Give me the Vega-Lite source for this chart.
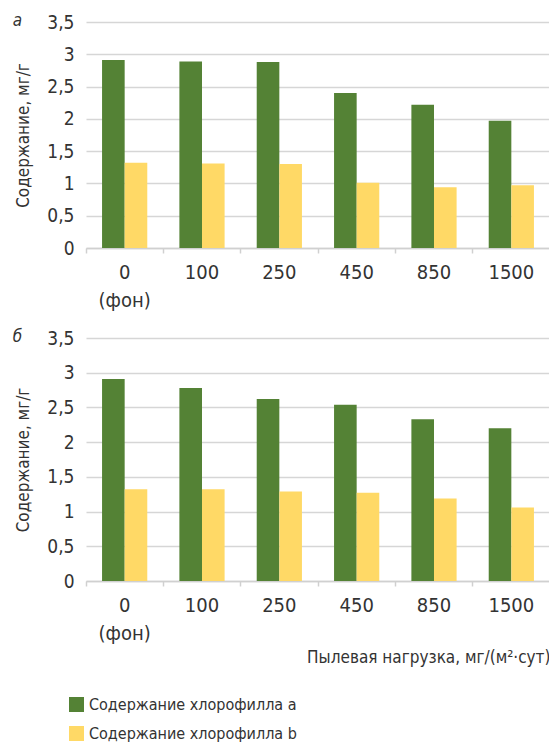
{
  "$schema": "https://vega.github.io/schema/vega-lite/v6.json",
  "padding": {"left": 12, "top": 12, "right": 0, "bottom": 5},
  "background": "white",
  "datasets": {
    "chl": [
      {"panel": "а", "load": "0", "pigment": "Содержание хлорофилла a", "value": 2.91},
      {"panel": "а", "load": "100", "pigment": "Содержание хлорофилла a", "value": 2.89},
      {"panel": "а", "load": "250", "pigment": "Содержание хлорофилла a", "value": 2.88},
      {"panel": "а", "load": "450", "pigment": "Содержание хлорофилла a", "value": 2.40},
      {"panel": "а", "load": "850", "pigment": "Содержание хлорофилла a", "value": 2.22},
      {"panel": "а", "load": "1500", "pigment": "Содержание хлорофилла a", "value": 1.97},
      {"panel": "а", "load": "0", "pigment": "Содержание хлорофилла b", "value": 1.32},
      {"panel": "а", "load": "100", "pigment": "Содержание хлорофилла b", "value": 1.31},
      {"panel": "а", "load": "250", "pigment": "Содержание хлорофилла b", "value": 1.30},
      {"panel": "а", "load": "450", "pigment": "Содержание хлорофилла b", "value": 1.01},
      {"panel": "а", "load": "850", "pigment": "Содержание хлорофилла b", "value": 0.94},
      {"panel": "а", "load": "1500", "pigment": "Содержание хлорофилла b", "value": 0.97},
      {"panel": "б", "load": "0", "pigment": "Содержание хлорофилла a", "value": 2.91},
      {"panel": "б", "load": "100", "pigment": "Содержание хлорофилла a", "value": 2.78},
      {"panel": "б", "load": "250", "pigment": "Содержание хлорофилла a", "value": 2.62},
      {"panel": "б", "load": "450", "pigment": "Содержание хлорофилла a", "value": 2.54},
      {"panel": "б", "load": "850", "pigment": "Содержание хлорофилла a", "value": 2.33},
      {"panel": "б", "load": "1500", "pigment": "Содержание хлорофилла a", "value": 2.20},
      {"panel": "б", "load": "0", "pigment": "Содержание хлорофилла b", "value": 1.32},
      {"panel": "б", "load": "100", "pigment": "Содержание хлорофилла b", "value": 1.32},
      {"panel": "б", "load": "250", "pigment": "Содержание хлорофилла b", "value": 1.29},
      {"panel": "б", "load": "450", "pigment": "Содержание хлорофилла b", "value": 1.27},
      {"panel": "б", "load": "850", "pigment": "Содержание хлорофилла b", "value": 1.19},
      {"panel": "б", "load": "1500", "pigment": "Содержание хлорофилла b", "value": 1.06}
    ]
  },
  "vconcat": [
    {
      "data": {"name": "chl"},
      "transform": [{"filter": "datum.panel == 'а'"}],
      "width": 464,
      "height": 226,
      "title": {"text": "а", "anchor": "start", "frame": "bounds", "fontStyle": "italic", "fontWeight": "normal", "fontSize": 17, "color": "#333333", "offset": 0, "dy": 25, "dx": -2, "baseline": "middle"},
      "mark": {"type": "bar"},
      "encoding": {
        "x": {"field": "load", "type": "nominal", "sort": ["0", "100", "250", "450", "850", "1500"], "scale": {"paddingInner": 0, "paddingOuter": 0},
              "axis": {"title": null, "labelExpr": "datum.value == '0' ? ['0', '(фон)'] : datum.value", "bandPosition": 0}},
        "xOffset": {"field": "pigment", "type": "nominal", "scale": {"paddingInner": 0, "paddingOuter": 0.71}},
        "y": {"field": "value", "type": "quantitative", "scale": {"domain": [0, 3.5], "nice": false},
              "axis": {"title": "Содержание, мг/г"}},
        "color": {"field": "pigment", "type": "nominal", "scale": {"domain": ["Содержание хлорофилла a", "Содержание хлорофилла b"], "range": ["#548235", "#FFD966"]},
                  "legend": {"title": null, "orient": "none", "legendX": -18, "legendY": 674, "direction": "vertical", "symbolType": "square", "symbolSize": 225, "labelFontSize": 16, "labelLimit": 0, "rowPadding": 12, "symbolOpacity": 1}}
      }
    },
    {
      "data": {"name": "chl"},
      "transform": [{"filter": "datum.panel == 'б'"}],
      "width": 464,
      "height": 243,
      "title": {"text": "б", "anchor": "start", "frame": "bounds", "fontStyle": "italic", "fontWeight": "normal", "fontSize": 17, "color": "#333333", "offset": 0, "dy": 25, "dx": -2, "baseline": "middle"},
      "mark": {"type": "bar"},
      "encoding": {
        "x": {"field": "load", "type": "nominal", "sort": ["0", "100", "250", "450", "850", "1500"], "scale": {"paddingInner": 0, "paddingOuter": 0},
              "axis": {"title": "Пылевая нагрузка, мг/(м²·сут)", "titleAnchor": "end", "titleAlign": "right", "titlePadding": 6, "labelExpr": "datum.value == '0' ? ['0', '(фон)'] : datum.value", "bandPosition": 0}},
        "xOffset": {"field": "pigment", "type": "nominal", "scale": {"paddingInner": 0, "paddingOuter": 0.71}},
        "y": {"field": "value", "type": "quantitative", "scale": {"domain": [0, 3.5], "nice": false},
              "axis": {"title": "Содержание, мг/г"}},
        "color": {"field": "pigment", "type": "nominal", "scale": {"domain": ["Содержание хлорофилла a", "Содержание хлорофилла b"], "range": ["#548235", "#FFD966"]},
                  "legend": {"title": null, "orient": "none", "legendX": -18, "legendY": 674, "direction": "vertical", "symbolType": "square", "symbolSize": 225, "labelFontSize": 16, "labelLimit": 0, "rowPadding": 12, "symbolOpacity": 1}}
      }
    }
  ],
  "spacing": 18,
  "config": {
    "font": "Liberation Sans Narrow, DejaVu Sans Condensed, Roboto",
    "view": {"stroke": null},
    "axisX": {
      "domainColor": "#d0d0d0", "domainWidth": 1.5, "tickColor": "#d0d0d0", "tickSize": 5, "tickWidth": 1.5,
      "labelAngle": 0, "labelFontSize": 20, "labelColor": "#333333", "labelPadding": 9, "labelLineHeight": 28,
      "grid": false, "titleFontSize": 17, "titleFontWeight": "normal", "titleColor": "#333333"
    },
    "axisY": {
      "domain": false, "ticks": false,
      "values": [0, 0.1, 0.2, 0.3, 0.4, 0.5, 0.6, 0.7, 0.8, 0.9, 1, 1.1, 1.2, 1.3, 1.4, 1.5, 1.6, 1.7, 1.8, 1.9, 2, 2.1, 2.2, 2.3, 2.4, 2.5, 2.6, 2.7, 2.8, 2.9, 3, 3.1, 3.2, 3.3, 3.4, 3.5],
      "labelExpr": "abs(round(datum.value * 2) - datum.value * 2) < 0.001 ? replace(format(datum.value, '.1~f'), '.', ',') : ''",
      "gridColor": {"condition": {"test": "abs(round(datum.value * 2) - datum.value * 2) < 0.001", "value": "#d6d6d6"}, "value": "#ededed"},
      "gridWidth": {"condition": {"test": "abs(round(datum.value * 2) - datum.value * 2) < 0.001", "value": 1.5}, "value": 1},
      "labelFontSize": 19, "labelColor": "#333333", "labelPadding": 12, "labelBound": false, "labelOverlap": false,
      "titleFontSize": 17, "titleFontWeight": "normal", "titleColor": "#333333", "titlePadding": 14
    },
    "legend": {"labelColor": "#333333", "labelFont": "Liberation Sans Narrow, DejaVu Sans Condensed, Roboto"},
    "title": {"color": "#333333"}
  }
}
